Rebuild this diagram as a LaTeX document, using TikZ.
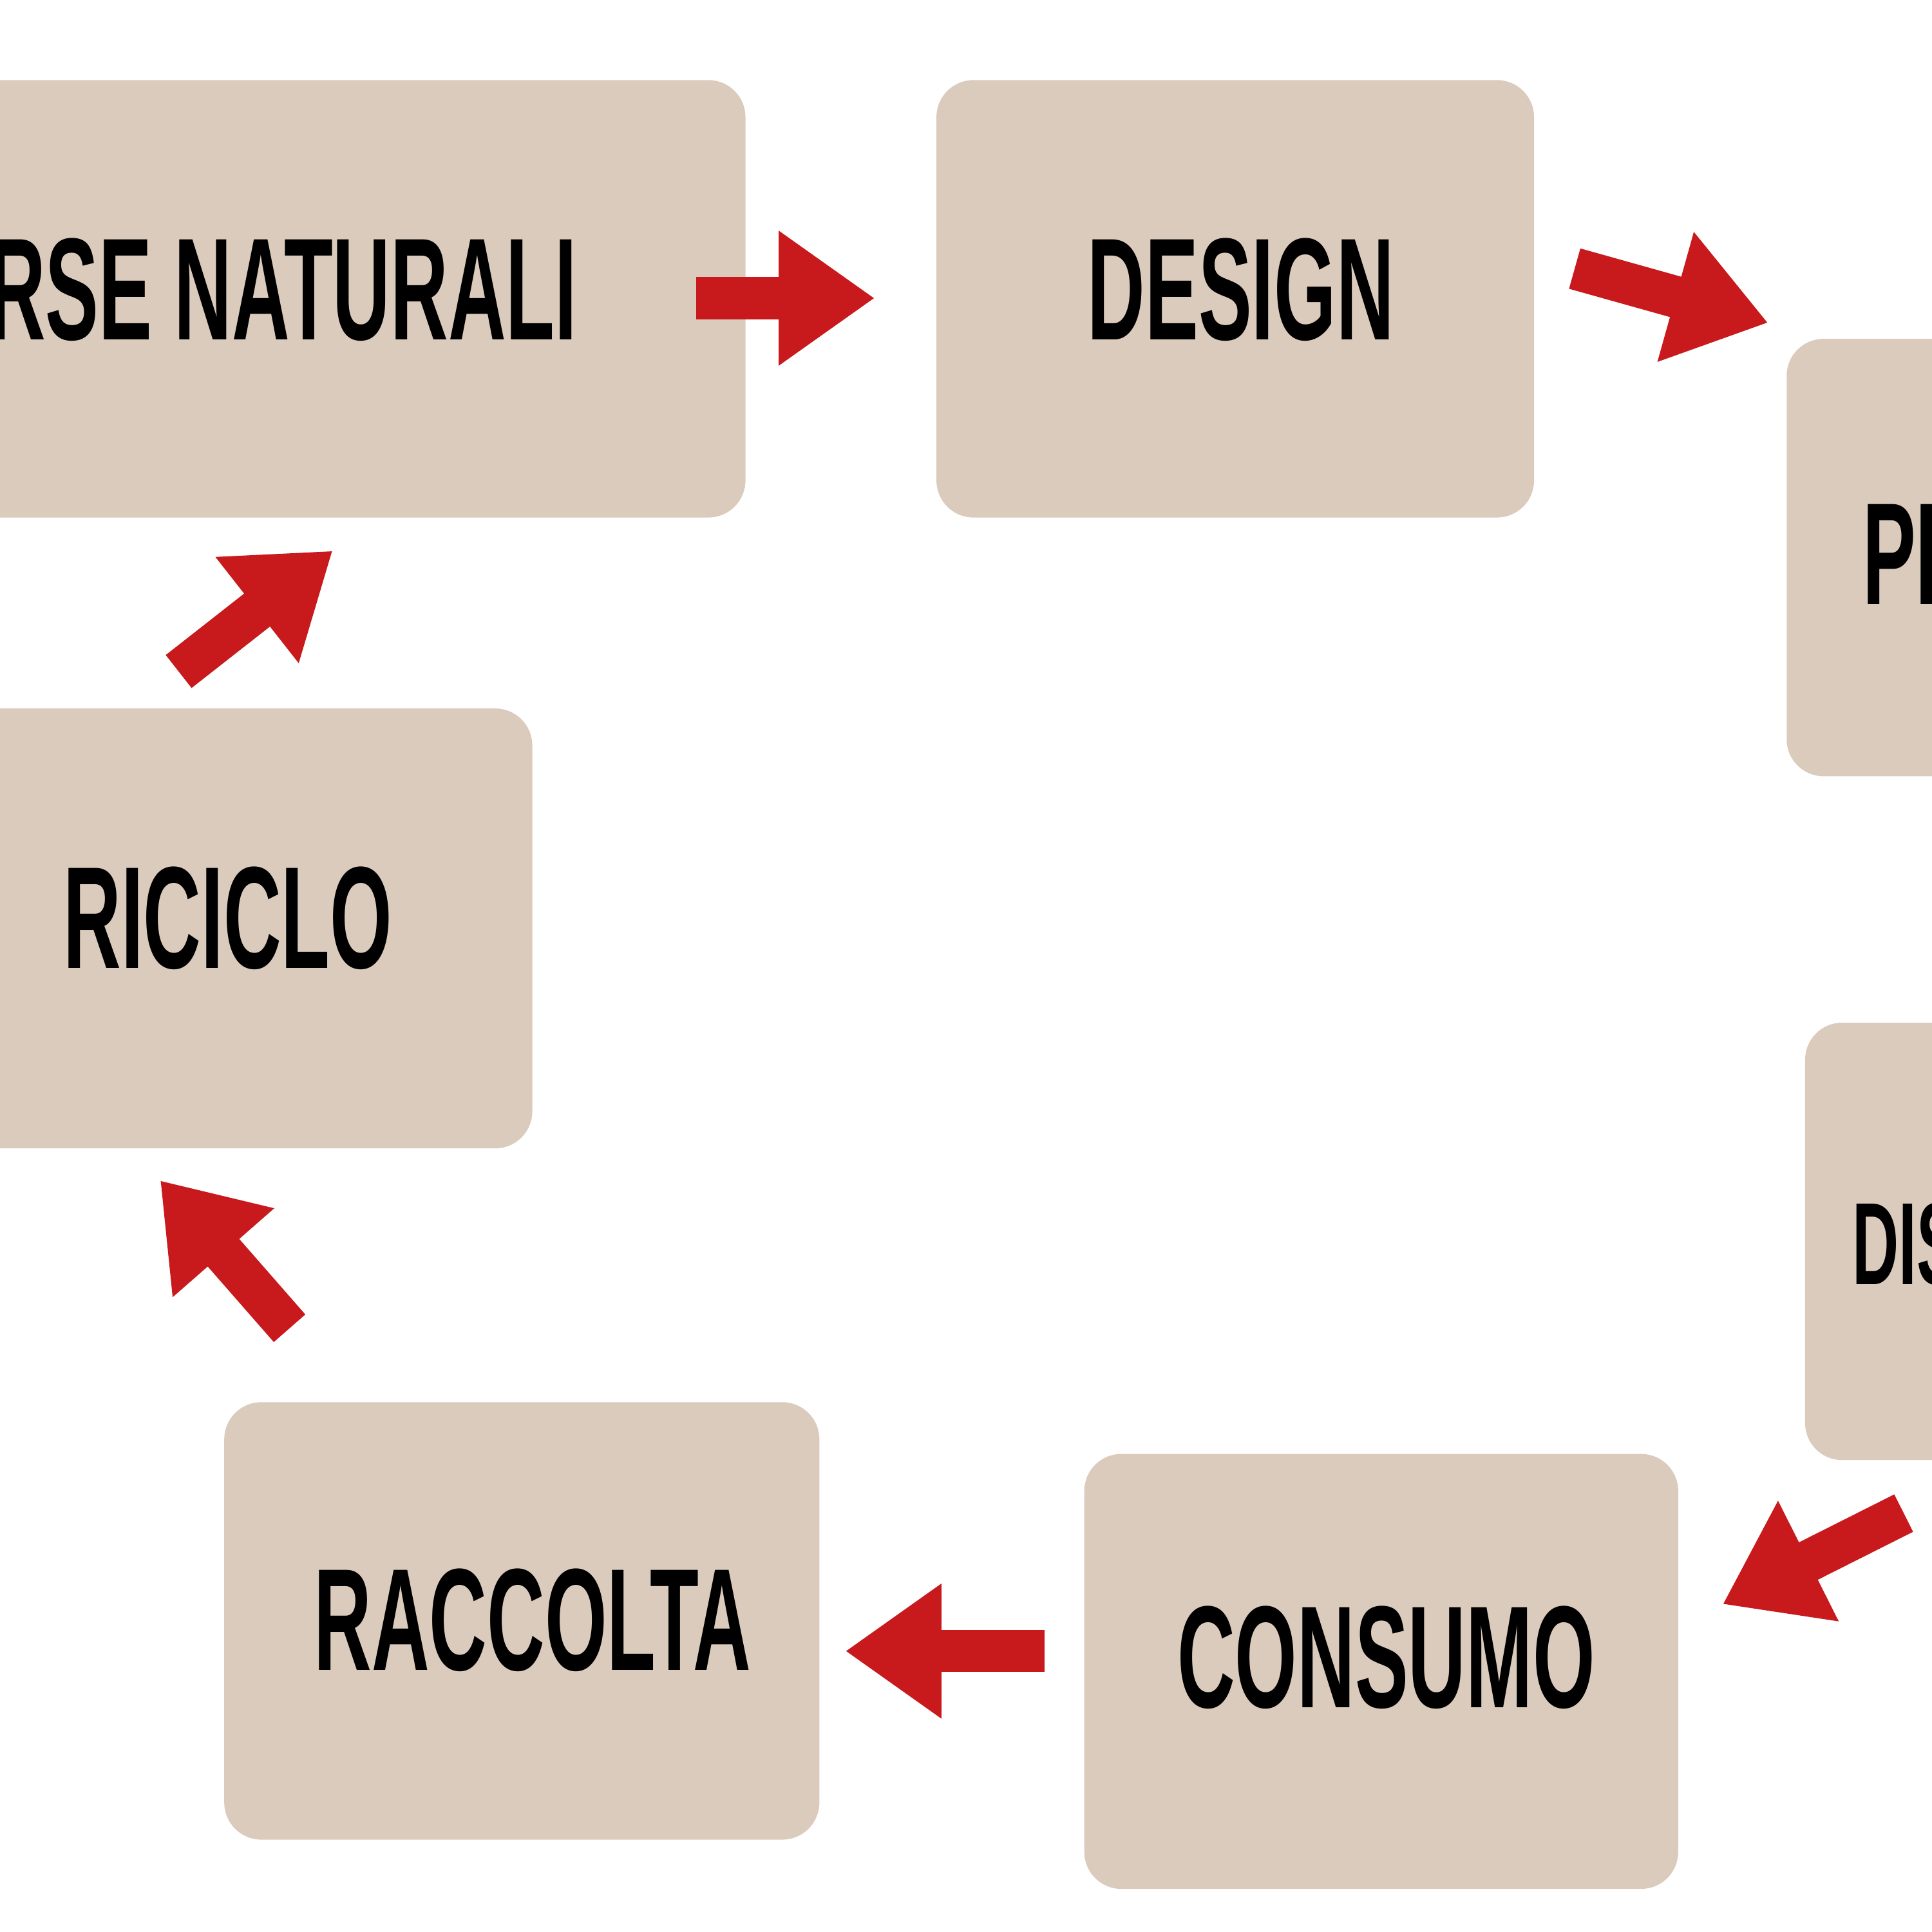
\documentclass[tikz,border=0pt]{standalone}
\usepackage{fontspec}
\setmainfont{Liberation Sans}
\usetikzlibrary{arrows.meta}
\definecolor{boxc}{HTML}{DBCBBD}
\definecolor{redc}{HTML}{C8191C}
\begin{document}
\begin{tikzpicture}[x=1pt,y=-1pt,
  boxst/.style={fill=boxc,rounded corners=30pt},
  lab/.style={font=\fontsize{118}{120}\selectfont\bfseries},
  arr/.style={draw=redc,line width=34pt,-{Triangle[length=78pt,width=104pt]},shorten >=0pt}]
\useasboundingbox (0,0) rectangle (1568,1568);
\begin{scope}
\clip (0,0) rectangle (1568,1568);
\fill[boxst] (-265,65) rectangle (605,420);
\fill[boxst] (760,65) rectangle (1245,420);
\fill[boxst] (1450,275) rectangle (1950,630);
\fill[boxst] (1465,830) rectangle (1965,1185);
\fill[boxst] (880,1180) rectangle (1362,1533);
\fill[boxst] (182,1138) rectangle (665,1493);
\fill[boxst] (-60,575) rectangle (432,932);
\node[lab,anchor=east] (n1) at (472,235) {\scalebox{0.55}[1]{RISORSE NATURALI}};
\node[lab] (n2) at (1007,235) {\scalebox{0.55}[1]{DESIGN}};
\node[lab,anchor=west] (n3) at (1508,450) {\scalebox{0.55}[1]{PRODUZIONE}};
\node[lab,anchor=west,font=\fontsize{95}{100}\selectfont\bfseries] (n4) at (1500,1010) {\scalebox{0.55}[1]{DISTRIBUZIONE}};
\node[lab] (n5) at (1125,1345) {\scalebox{0.55}[1]{CONSUMO}};
\node[lab] (n6) at (432,1315) {\scalebox{0.55}[1]{RACCOLTA}};
\node[lab] (n7) at (185,745) {\scalebox{0.55}[1]{RICICLO}};
\coordinate (a1s) at (565,242); \coordinate (a1e) at (710,242);
\coordinate (a2s) at (1278,218); \coordinate (a2e) at (1435,262);
\coordinate (a3s) at (1545,1228); \coordinate (a3e) at (1398,1302);
\coordinate (a4s) at (848,1340); \coordinate (a4e) at (686,1340);
\coordinate (a5s) at (235,1078); \coordinate (a5e) at (130,958);
\coordinate (a6s) at (145,545); \coordinate (a6e) at (270,447);
\foreach \i in {1,...,6} \draw[arr] (a\i s) -- (a\i e);
\end{scope}
\end{tikzpicture}
\end{document}
